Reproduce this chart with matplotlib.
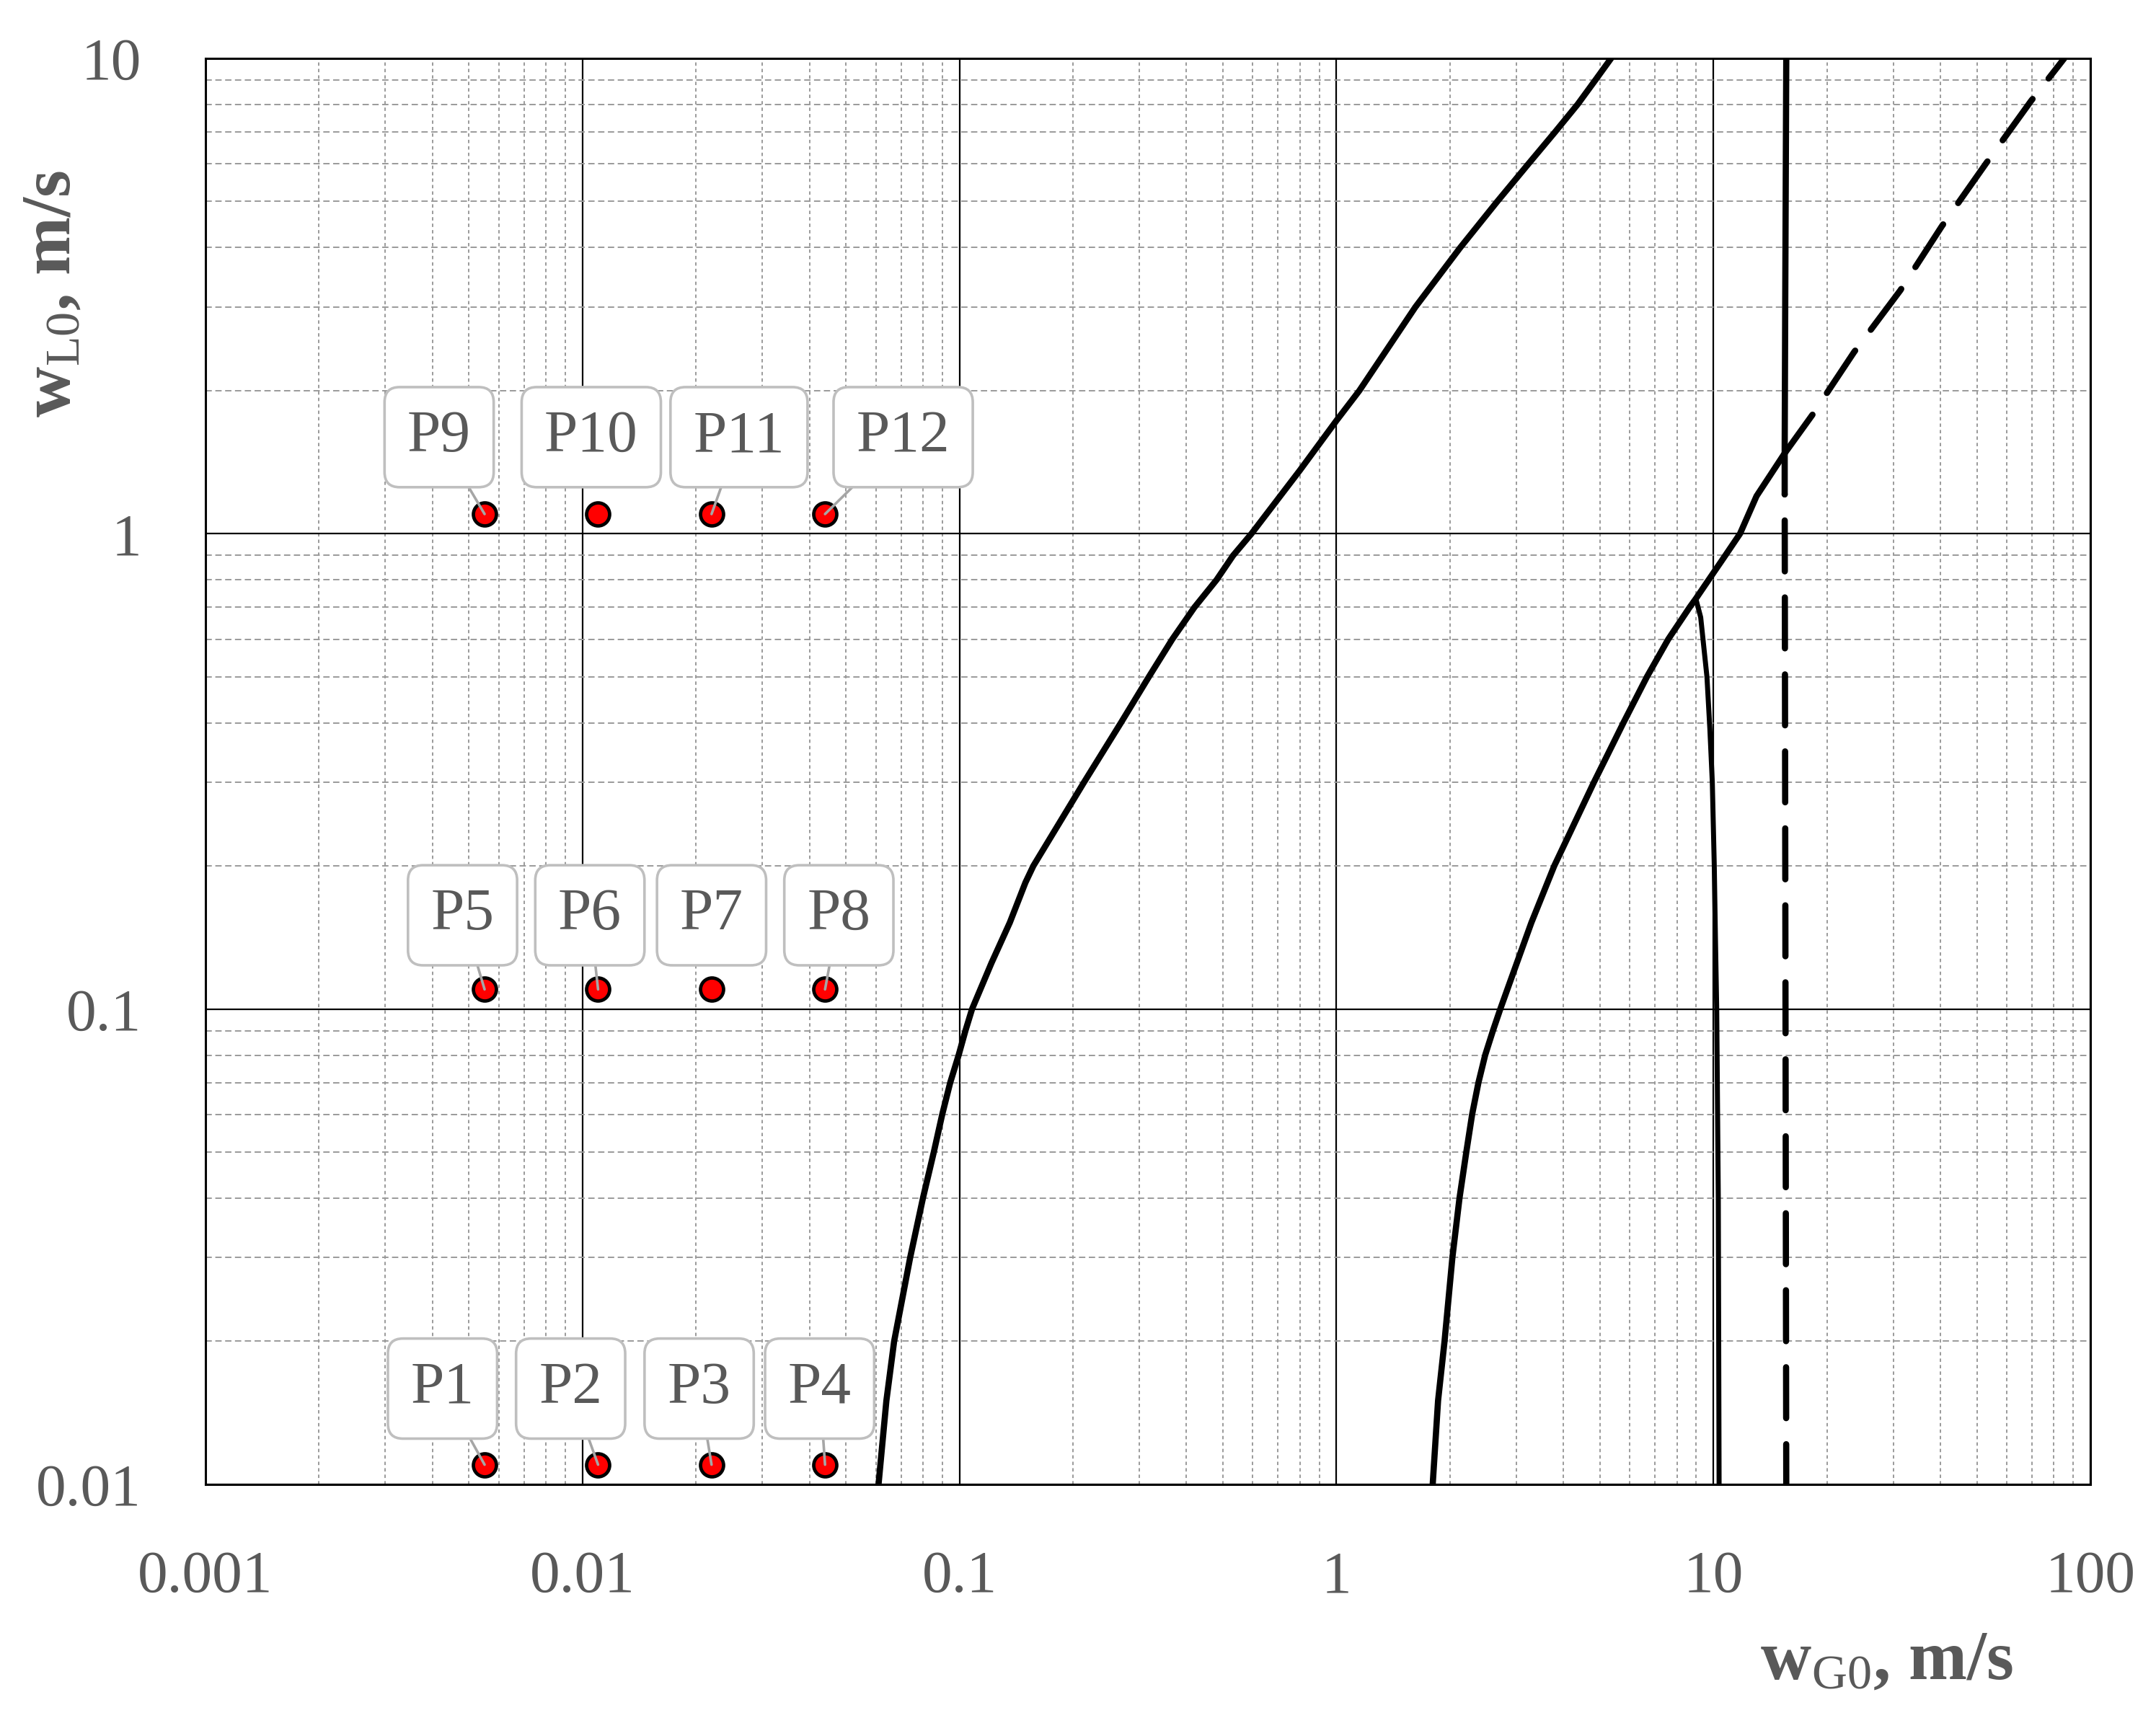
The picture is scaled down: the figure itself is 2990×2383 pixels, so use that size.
import matplotlib
matplotlib.use("Agg")
import matplotlib.pyplot as plt
import numpy as np
from matplotlib.ticker import FixedLocator, FuncFormatter, LogLocator, NullFormatter

# --- data (log-log map) ---
curve_a_x = [0.0610, 0.0640, 0.0671, 0.0740, 0.0800, 0.0855, 0.0900, 0.0945,
             0.0995, 0.1037, 0.1080, 0.1216, 0.136, 0.1496, 0.157, 0.214, 0.268,
             0.318, 0.367, 0.420, 0.481, 0.532, 0.595, 0.80, 1.0, 1.15, 1.62,
             2.13, 2.67, 3.23, 3.80, 4.36, 4.86, 5.35]
curve_a_y = [0.010, 0.015, 0.020, 0.030, 0.040, 0.050, 0.060, 0.070,
             0.080, 0.090, 0.100, 0.125, 0.152, 0.1845, 0.20, 0.30, 0.40,
             0.50, 0.60, 0.70, 0.80, 0.90, 1.0, 1.36, 1.73, 2.0, 3.0,
             4.0, 5.0, 6.0, 7.0, 8.0, 9.0, 10.0]

curve_b_x = [1.80, 1.86, 1.935, 2.03, 2.12, 2.21, 2.29, 2.38, 2.48, 2.60, 2.72,
             2.954, 3.289, 3.781, 4.819, 5.768, 6.661, 7.589, 8.645, 8.98, 9.714,
             10.75, 11.76, 13.01, 15.39, 18.31]
curve_b_y = [0.010, 0.015, 0.020, 0.030, 0.040, 0.050, 0.060, 0.070, 0.080, 0.090,
             0.100, 0.120, 0.152, 0.200, 0.30, 0.40, 0.50, 0.60, 0.70, 0.73, 0.80,
             0.90, 1.0, 1.20, 1.47, 1.78]
curve_b_ext_x = [18.31, 23.6, 31.3, 40.3, 52.9, 69.5, 85.2]
curve_b_ext_y = [1.78, 2.41, 3.25, 4.43, 6.02, 8.13, 10.0]

curve_c_x = [10.35, 10.3, 10.2, 10.12, 10.05, 9.93, 9.78, 9.61, 9.25, 8.98]
curve_c_y = [0.010, 0.040, 0.100, 0.142, 0.200, 0.300, 0.390, 0.500, 0.667, 0.73]

curve_d_x = [15.6, 15.5, 15.45, 15.45]
curve_d_y = [10.0, 3.0, 1.5, 1.21]
curve_d_ext_x = [15.45, 15.6]
curve_d_ext_y = [1.21, 0.010]

point_labels = ["P1", "P2", "P3", "P4", "P5", "P6", "P7", "P8",
                "P9", "P10", "P11", "P12"]
point_x = [0.0055, 0.011, 0.022, 0.044, 0.0055, 0.011, 0.022, 0.044,
           0.0055, 0.011, 0.022, 0.044]
point_y = [0.011, 0.011, 0.011, 0.011, 0.11, 0.11, 0.11, 0.11,
           1.1, 1.1, 1.1, 1.1]

x_ticks = [0.001, 0.01, 0.1, 1, 10, 100]
y_ticks = [0.01, 0.1, 1, 10]

# label box placement (offset points from each marker) and leader visibility
label_offsets = [(-21, 38), (-13.7, 38), (-6.2, 38), (-2.7, 38),
                 (-11, 37), (-4.1, 37), (0, 37), (6.9, 37),
                 (-22.7, 38.4), (-3.4, 38.4), (13.7, 38.4), (39, 38.4)]
show_leader = [True, True, True, True, True, True, False, True,
               True, False, True, True]

TEXT_GREY = "#595959"

plt.rcParams["font.family"] = ["Liberation Serif", "DejaVu Serif"]
plt.rcParams["mathtext.fontset"] = "custom"
plt.rcParams["mathtext.rm"] = "Liberation Serif"
plt.rcParams["mathtext.bf"] = "Liberation Serif:bold"
plt.rcParams["mathtext.it"] = "Liberation Serif:italic"

fig = plt.figure(figsize=(14.95, 11.915), dpi=200)
ax = fig.add_axes([0.0953, 0.1360, 0.8743, 0.8300])
ax.set_xscale("log")
ax.set_yscale("log")
ax.set_xlim(0.001, 100)
ax.set_ylim(0.01, 10)

# grid
ax.set_axisbelow(True)
ax.xaxis.set_major_locator(FixedLocator(x_ticks))
ax.yaxis.set_major_locator(FixedLocator(y_ticks))
ax.xaxis.set_minor_locator(LogLocator(base=10, subs=np.arange(2, 10), numticks=100))
ax.yaxis.set_minor_locator(LogLocator(base=10, subs=np.arange(2, 10), numticks=100))
ax.xaxis.set_minor_formatter(NullFormatter())
ax.yaxis.set_minor_formatter(NullFormatter())
ax.xaxis.set_major_formatter(FuncFormatter(lambda v, _: f"{v:g}"))
ax.yaxis.set_major_formatter(FuncFormatter(lambda v, _: f"{v:g}"))

ax.grid(which="major", color="black", lw=0.8, ls="-")
ax.grid(which="minor", axis="y", color="#9A9A9A", lw=0.7, ls=(0, (4.5, 2.5)))
ax.grid(which="minor", axis="x", color="#9A9A9A", lw=0.7, ls=(0, (2.4, 2.2)))

for sp in ax.spines.values():
    sp.set_color("black")
    sp.set_linewidth(1.1)

ax.tick_params(which="both", length=0)
ax.tick_params(axis="x", which="major", pad=33, labelsize=30, labelcolor=TEXT_GREY)
ax.tick_params(axis="y", which="major", pad=32, labelsize=30, labelcolor=TEXT_GREY)

# curves
lw = 3.1
dash = (8.2, 4.2)
ax.plot(curve_a_x, curve_a_y, color="black", lw=lw, solid_capstyle="round",
        solid_joinstyle="round")
ax.plot(curve_b_x, curve_b_y, color="black", lw=lw, solid_capstyle="round",
        solid_joinstyle="round")
ax.plot(curve_b_ext_x, curve_b_ext_y, color="black", lw=lw,
        ls=(dash[0], dash), dash_capstyle="round")
ax.plot(curve_c_x, curve_c_y, color="black", lw=2.5, solid_capstyle="round",
        solid_joinstyle="round")
ax.plot(curve_d_x, curve_d_y, color="black", lw=lw, solid_capstyle="round")
ax.plot(curve_d_ext_x, curve_d_ext_y, color="black", lw=lw,
        ls=(dash[0], dash), dash_capstyle="round")

# points and callout labels
ax.plot(point_x, point_y, ls="none", marker="o", ms=11.5, mfc="#FF0000",
        mec="black", mew=1.7, zorder=4)

for lab, px, py, off, lead in zip(point_labels, point_x, point_y,
                                  label_offsets, show_leader):
    arrow = None
    if lead:
        arrow = dict(arrowstyle="-", color="#A6A6A6", lw=1.3,
                     shrinkA=0, shrinkB=0)
    ax.annotate(lab, xy=(px, py), xytext=off, textcoords="offset points",
                ha="center", va="center", fontsize=30, color=TEXT_GREY,
                bbox=dict(boxstyle="round,pad=0.38,rounding_size=0.25",
                          fc="white", ec="#BFBFBF", lw=1.3),
                arrowprops=arrow, zorder=5)

ax.set_xlabel(r"$\mathbf{w}_{\mathrm{G0}}$, m/s", fontsize=35,
              fontweight="bold", color=TEXT_GREY)
ax.set_ylabel(r"$\mathbf{w}_{\mathrm{L0}}$, m/s", fontsize=35,
              fontweight="bold", color=TEXT_GREY)
ax.xaxis.set_label_coords(0.892, -0.102)
ax.yaxis.set_label_coords(-0.064, 0.835)

fig.savefig("out.png", dpi=200)
plt.close(fig)
